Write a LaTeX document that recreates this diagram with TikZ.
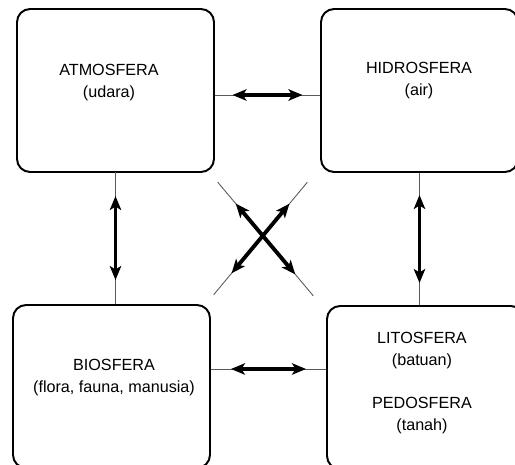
\documentclass[tikz,border=0pt]{standalone}
\usepackage{fontspec}
\setmainfont{Liberation Sans}
\usetikzlibrary{arrows.meta,calc}
\tikzset{
    sphere/.style = {draw, rounded corners=0.26cm, line width=1.1pt,
        minimum width=3.94cm, minimum height=3.26cm, inner sep=0pt},
    spheretext/.style = {align=center, font=\fontsize{9.2}{12.5}\selectfont},
    wire/.style = {draw, line width=0.5pt, black!65},
    link/.style = {draw, line width=2.2pt,
        {Stealth[length=8pt,width=6.5pt,inset=2pt]}-{Stealth[length=8pt,width=6.5pt,inset=2pt]}}
}
% thin line from box to box, thick double arrow on its middle part
\newcommand{\twoway}[4]{%
    \draw[wire, shorten <=#1, shorten >=#1] #3 -- #4;
    \draw[link, shorten <=#2, shorten >=#2] #3 -- #4;
}

\begin{document}
\begin{tikzpicture}[x=0.02cm, y=-0.02cm]
    \useasboundingbox (0,0) rectangle (515,465);
    % the four spheres
    \node[sphere] (atm) at (115.5,90.5) {};
    \node[sphere] (hid) at (419.5,90.5) {};
    \node[sphere] (bio) at (111.5,386.5) {};
    \node[sphere] (lit) at (425.5,387.5) {};
    \node[spheretext] (atmtext) at (109,83) {ATMOSFERA\\(udara)};
    \node[spheretext] (hidtext) at (419,81) {HIDROSFERA\\(air)};
    \node[spheretext] (biotext) at (114,378) {BIOSFERA\\(flora, fauna, manusia)};
    \node[spheretext] (littext) at (422,383) {LITOSFERA\\(batuan)\\[12.5pt]PEDOSFERA\\(tanah)};
    % links
    \twoway{0pt}{0.35cm}{(atm.east |- 0,95)}{(hid.west |- 0,95)}
    \twoway{0pt}{0.40cm}{(bio.east |- 0,369)}{(lit.west |- 0,369)}
    \twoway{0pt}{0.48cm}{(atm.south |- 0,172)}{(atm.south |- bio.north)}
    \twoway{0pt}{0.44cm}{(hid.south)}{(hid.south |- lit.north)}
    \twoway{0.24cm}{0.8cm}{([xshift=-0.1cm]atm.south east)}{([xshift=-0.1cm]lit.north west)}
    \twoway{0.24cm}{0.8cm}{([xshift=-0.1cm]hid.south west)}{([xshift=-0.1cm]bio.north east)}
\end{tikzpicture}
\end{document}
